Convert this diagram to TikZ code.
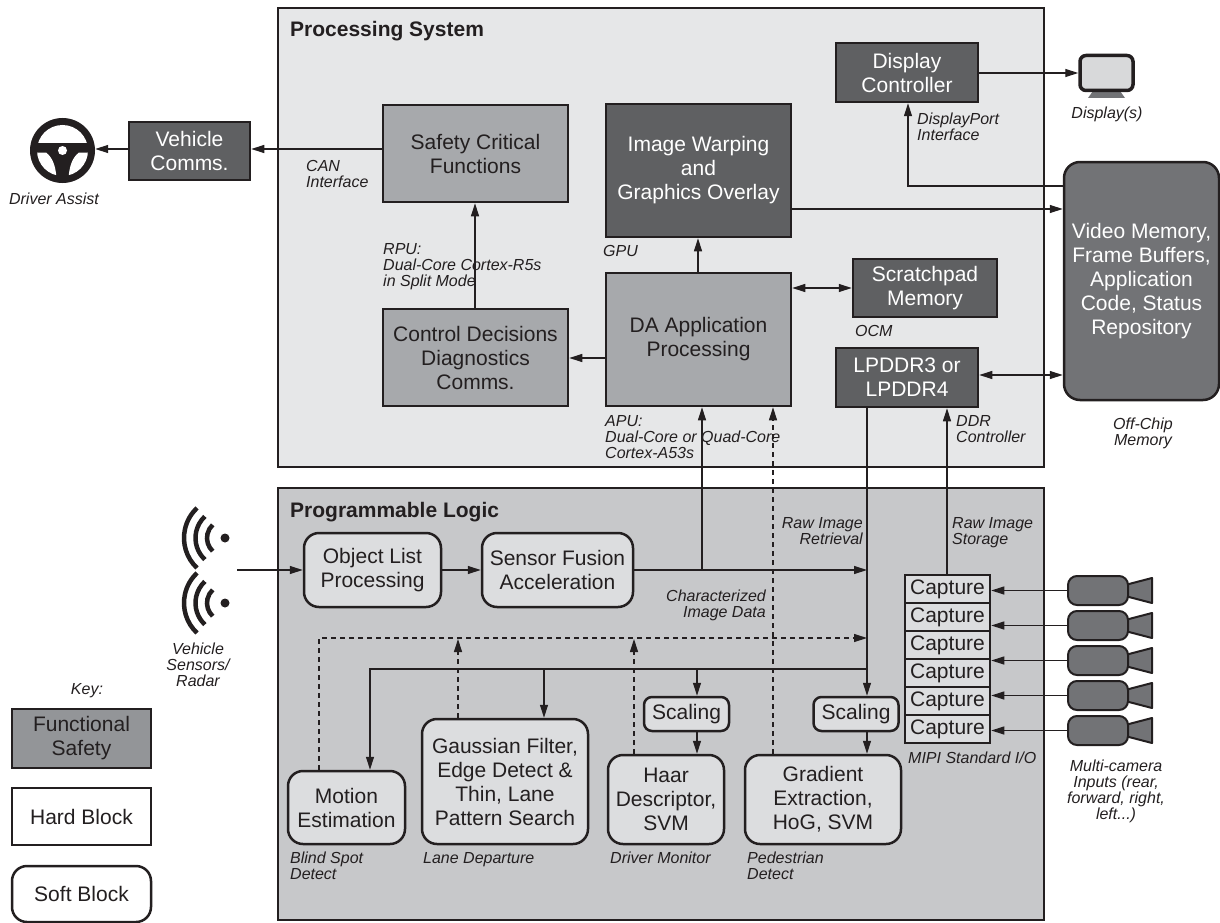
\documentclass[tikz,border=0pt]{standalone}
\usepackage{fontspec}
\setmainfont{Liberation Sans}
\usetikzlibrary{arrows.meta}
\definecolor{inkc}{HTML}{231F20}
\definecolor{pscol}{HTML}{E6E7E8}
\definecolor{plcol}{HTML}{C7C8CA}
\definecolor{safecol}{HTML}{A7A9AC}
\definecolor{keycol}{HTML}{939598}
\definecolor{darkcol}{HTML}{5F6062}
\definecolor{memcol}{HTML}{727376}
\definecolor{softcol}{HTML}{DCDDDF}
\tikzset{
  panel/.style={draw=inkc,line width=2.5pt,minimum width=766pt},
  hardbox/.style={draw=inkc,line width=2.5pt,inner sep=0pt,align=center,text=inkc,font=\fontsize{21}{24}\selectfont},
  safebox/.style={hardbox,fill=safecol},
  darkbox/.style={hardbox,fill=darkcol,text=white},
  softbox/.style={hardbox,fill=softcol,rounded corners=15pt},
  scalebox/.style={softbox,rounded corners=8pt,minimum width=85pt,minimum height=34pt},
  capturebox/.style={hardbox,fill=softcol,minimum width=85pt,minimum height=28pt},
  cambody/.style={draw=inkc,line width=2pt,fill=memcol,rounded corners=9pt,minimum width=60pt,minimum height=29pt,inner sep=0pt},
  note/.style={text=inkc,font=\fontsize{16}{16}\selectfont\itshape,inner sep=0pt,align=left,anchor=north west},
  title/.style={text=inkc,font=\fontsize{21}{24}\selectfont\bfseries,inner sep=0pt,anchor=north west},
  conn/.style={draw=inkc,line width=1.2pt},
  dashconn/.style={conn,dash pattern=on 5pt off 4pt}
}
\begin{document}
\begin{tikzpicture}[x=1pt,y=-1pt,>={Triangle[length=13pt,width=8pt]}]
  \useasboundingbox (0,0) rectangle (1220,923);
  % panels
  \node[panel,fill=pscol,minimum height=459pt] (ps) at (661,237.5) {};
  \node[panel,fill=plcol,minimum height=432pt] (pl) at (661,704) {};
  \node[title] (pstitle) at (290,21) {Processing System};
  \node[title] (pltitle) at (290,502) {Programmable Logic};
  % processing system
  \node[darkbox,minimum width=121pt,minimum height=58pt] (vehicle) at (189.5,151) {Vehicle\\Comms.};
  \node[safebox,minimum width=185pt,minimum height=97pt] (safety) at (475.5,153.5) {Safety Critical\\Functions};
  \node[darkbox,minimum width=185pt,minimum height=133pt] (warp) at (698.5,170.5) {Image Warping\\and\\Graphics Overlay};
  \node[darkbox,minimum width=142pt,minimum height=59pt] (dispctl) at (907,72.5) {Display\\Controller};
  \node[darkbox,minimum width=144pt,minimum height=58pt] (scratch) at (925,288) {Scratchpad\\Memory};
  \node[darkbox,minimum width=142pt,minimum height=59pt] (lpddr) at (907,377.5) {LPDDR3 or\\LPDDR4};
  \node[safebox,minimum width=185pt,minimum height=133pt] (da) at (698.5,339.5) {DA Application\\Processing};
  \node[safebox,minimum width=185pt,minimum height=97pt] (control) at (475.5,357.5) {Control Decisions\\Diagnostics\\Comms.};
  \node[darkbox,fill=memcol,rounded corners=16pt,minimum width=155pt,minimum height=238pt] (video) at (1141.5,281) {Video Memory,\\Frame Buffers,\\Application\\Code, Status\\Repository};
  % programmable logic
  \node[softbox,minimum width=137pt,minimum height=74pt] (object) at (372.5,570) {Object List\\Processing};
  \node[softbox,minimum width=151pt,minimum height=74pt] (fusion) at (557.5,570) {Sensor Fusion\\Acceleration};
  \node[scalebox] (scale1) at (686.5,714) {Scaling};
  \node[scalebox] (scale2) at (856,714) {Scaling};
  \node[softbox,minimum width=117pt,minimum height=73pt] (motion) at (346.5,807.5) {Motion\\Estimation};
  \node[softbox,minimum width=166pt,minimum height=125pt] (gauss) at (505,781.5) {Gaussian Filter,\\Edge Detect \&\\Thin, Lane\\Pattern Search};
  \node[softbox,minimum width=116pt,minimum height=89pt] (haar) at (666,799.5) {Haar\\Descriptor,\\SVM};
  \node[softbox,minimum width=156pt,minimum height=89pt] (gradient) at (823,799.5) {Gradient\\Extraction,\\HoG, SVM};
  \foreach \i/\y in {1/589,2/617,3/645,4/673,5/701,6/729}
    \node[capturebox] (cap\i) at (947.5,\y) {Capture};
  % cameras
  \foreach \i/\y in {1/590.5,2/625.5,3/660.5,4/695.5,5/730.5} {
    \fill[memcol,draw=inkc,line width=2pt,line join=round] (1127,\y-6) -- (1152,\y-12.5) -- (1152,\y+12.5) -- (1127,\y+6) -- cycle;
    \node[cambody] (cam\i) at (1098,\y) {};
    \draw[conn,->] (cam\i.west) -- (cam\i.west -| cap1.east);
  }
  % key
  \node[hardbox,fill=keycol,minimum width=139pt,minimum height=59pt] (keysafe) at (81.5,738.5) {Functional\\Safety};
  \node[hardbox,fill=white,minimum width=139pt,minimum height=57pt] (keyhard) at (81.5,816.5) {Hard Block};
  \node[softbox,fill=white,minimum width=139pt,minimum height=56pt] (keysoft) at (81.5,894) {Soft Block};
  % steering wheel
  \node[circle,fill=inkc,minimum size=65pt,inner sep=0pt] (wheel) at (62.5,150.5) {};
  \begin{scope}
    \clip (wheel.center) circle (25.5);
    \fill[white] (30,110) rectangle (95,143);
    \fill[white] (30,152.5) -- (46,152.5) .. controls (52,157) and (57,166) .. (56.5,185) -- (30,185) -- cycle;
    \fill[white] (95,152.5) -- (79,152.5) .. controls (73,157) and (68,166) .. (68.5,185) -- (95,185) -- cycle;
  \end{scope}
  \fill[white] (wheel.center) circle (4.5);
  % display
  \fill[memcol] (1093,91) -- (1120,91) -- (1125,98) -- (1088,98) -- cycle;
  \node[draw=inkc,line width=3.5pt,fill=plcol!70!white,rounded corners=6pt,minimum width=53pt,minimum height=35pt,inner sep=0pt] (display) at (1106.5,73) {};
  % radar
  \node[circle,fill=inkc,minimum size=9pt,inner sep=0pt] (radar1) at (225,538) {};
  \node[circle,fill=inkc,minimum size=9pt,inner sep=0pt] (radar2) at (225,603) {};
  \foreach \y in {538,603}
    \foreach \r in {18,29.5,41}
      \draw[inkc,line width=4.5pt] (225,\y) ++(133:\r) arc (133:227:\r);
  \coordinate (radarin) at (237,570);
  % connectors
  \draw[conn,->] (safety.west |- 0,149) -- (vehicle.east |- 0,149);
  \draw[conn,->] (vehicle.west |- 0,149) -- (wheel.east |- 0,149);
  \draw[conn,->] (475,0 |- control.north) -- (475,0 |- safety.south);
  \draw[conn,->] (da.west |- 0,358) -- (control.east |- 0,358);
  \draw[conn,->] (698,0 |- da.north) -- (698,0 |- warp.south);
  \draw[conn,<->] (da.east |- 0,288) -- (scratch.west |- 0,288);
  \draw[conn,->] (warp.east |- 0,209) -- (video.west |- 0,209);
  \draw[conn,->] (video.west |- 0,186) -| (908,0 |- dispctl.south);
  \draw[conn,->] (dispctl.east |- 0,73) -- (display.west |- 0,73);
  \draw[conn,<->] (lpddr.east |- 0,375) -- (video.west |- 0,375);
  \draw[conn,->] (947,0 |- cap1.north) -- (947,0 |- lpddr.south);
  \draw[conn,->] (867,0 |- lpddr.south) -- (867,0 |- scale2.north);
  \draw[conn,->] (radarin) -- (object.west);
  \draw[conn,->] (object.east) -- (fusion.west);
  \draw[conn,->] (fusion.east) -- (867,0 |- fusion.east);
  \draw[conn,->] (702,0 |- fusion.east) -- (702,0 |- da.south);
  \draw[conn,->] (867,669) -| (370,0 |- motion.north);
  \draw[conn,->] (544,669) -- (544,0 |- gauss.north);
  \draw[conn,->] (697,669) -- (697,0 |- scale1.north);
  \draw[conn,->] (697,0 |- scale1.south) -- (697,0 |- haar.north);
  \draw[conn,->] (867,0 |- scale2.south) -- (867,0 |- gradient.north);
  \draw[dashconn,->] (319,0 |- motion.north) |- (867,638);
  \draw[dashconn,->] (458,0 |- gauss.north) -- (458,639);
  \draw[dashconn,->] (634,0 |- haar.north) -- (634,639);
  \draw[dashconn,->] (773,0 |- gradient.north) -- (773,0 |- da.south);
  % labels
  \node[note] (canlbl) at (306,160) {CAN\\Interface};
  \node[note,anchor=north,align=center] (drvlbl) at (54,193) {Driver Assist};
  \node[note] (rpulbl) at (383,243) {RPU:\\Dual-Core Cortex-R5s\\in Split Mode};
  \node[note] (gpulbl) at (603,245) {GPU};
  \node[note] (ocmlbl) at (855,325) {OCM};
  \node[note] (apulbl) at (605,415) {APU:\\Dual-Core or Quad-Core\\Cortex-A53s};
  \node[note] (dplbl) at (917,113) {DisplayPort\\Interface};
  \node[note] (ddrlbl) at (956,415) {DDR\\Controller};
  \node[note,anchor=north,align=center] (displbl) at (1107,107) {Display(s)};
  \node[note,anchor=north,align=center] (offlbl) at (1143,418) {Off-Chip\\Memory};
  \node[note,anchor=north east,align=right] (retlbl) at (863,517) {Raw Image\\Retrieval};
  \node[note] (storlbl) at (952,517) {Raw Image\\Storage};
  \node[note,anchor=north east,align=right] (charlbl) at (766,590) {Characterized\\Image Data};
  \node[note,anchor=north,align=center] (senslbl) at (198,643) {Vehicle\\Sensors/\\Radar};
  \node[note,anchor=north,align=center] (keylbl) at (87,683) {Key:};
  \node[note] (mipilbl) at (908,752) {MIPI Standard I/O};
  \node[note,anchor=north,align=center] (camlbl) at (1116,760) {Multi-camera\\Inputs (rear,\\forward, right,\\left...)};
  \node[note] (blindlbl) at (290,852) {Blind Spot\\Detect};
  \node[note] (lanelbl) at (423,852) {Lane Departure};
  \node[note] (monlbl) at (610,852) {Driver Monitor};
  \node[note] (pedlbl) at (747,852) {Pedestrian\\Detect};
\end{tikzpicture}
\end{document}
